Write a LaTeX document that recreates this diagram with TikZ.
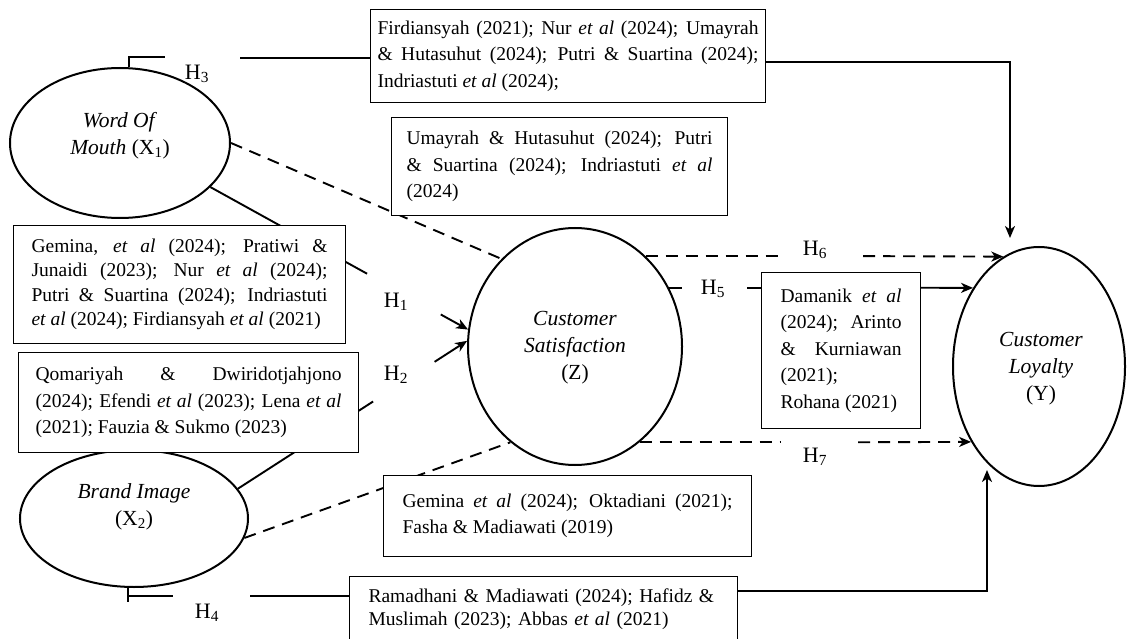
\documentclass[tikz,border=0pt]{standalone}
\usepackage{fontspec}
\setmainfont{Liberation Serif}
\usetikzlibrary{arrows.meta,calc,shapes.geometric}
\pgfdeclarelayer{bg}
\pgfsetlayers{bg,main}
\newcommand{\bxfont}{\fontsize{19.5}{26.5}\selectfont}
\newcommand{\elfont}{\fontsize{21.5}{27}\selectfont}
\newcommand{\hypfont}{\fontsize{22}{26}\selectfont}
\newcommand{\etal}{\textit{et al}}
\hyphenpenalty=10000
\exhyphenpenalty=10000
\begin{document}
\begin{tikzpicture}[x=1pt,y=-1pt,
  latent/.style={ellipse,draw,line width=2pt,fill=white,inner sep=0pt},
  etxt/.style={align=center,font=\elfont,inner sep=0pt},
  refbox/.style={draw,line width=1.1pt,fill=white,anchor=north west,align=justify,inner ysep=0pt,font=\bxfont},
  conn/.style={line width=1.9pt},
  dsh/.style={conn,dash pattern=on 12pt off 8pt},
  arr/.style={-{Stealth[length=12pt,width=10pt,inset=3.5pt]}},
  hlab/.style={font=\hypfont,inner sep=0pt},
]
\useasboundingbox (0,0) rectangle (1127,639);

% constructs
\node[latent,minimum width=220pt,minimum height=150pt] (wom) at (120,143) {};
\node[etxt] (womt) at (120,136) {\textit{Word Of}\\\textit{Mouth} (X\textsubscript{1})};
\node[latent,minimum width=228pt,minimum height=137pt] (bi) at (134,518.5) {};
\node[etxt] (bit) at (134,507) {\textit{Brand Image}\\(X\textsubscript{2})};
\node[latent,minimum width=214pt,minimum height=237pt] (cs) at (575,346.5) {};
\node[etxt] (cst) at (575,348) {\textit{Customer}\\\textit{Satisfaction}\\(Z)};
\node[latent,minimum width=172pt,minimum height=239pt] (yl) at (1039,366.5) {};
\node[etxt] (ylt) at (1041,369) {\textit{Customer}\\\textit{Loyalty}\\(Y)};

% reference boxes
\node[refbox,inner xsep=7pt,text width=381pt,minimum height=93pt] (box1) at (370,9)
 {Firdiansyah (2021); Nur \etal{} (2024); Umayrah\linebreak \& Hutasuhut (2024); Putri \& Suartina (2024);\linebreak Indriastuti \etal{} (2024);};
\node[refbox,inner xsep=15pt,text width=306pt,minimum height=98pt] (box2) at (391,117)
 {Umayrah \& Hutasuhut (2024); Putri\linebreak \& Suartina (2024); Indriastuti \etal\linebreak (2024)};
\node[refbox,inner xsep=18pt,text width=296pt,minimum height=118pt,font=\fontsize{19.5}{24.5}\selectfont] (geml) at (13,225)
 {Gemina, \etal{} (2024); Pratiwi \&\linebreak Junaidi (2023); Nur \etal{} (2024);\linebreak Putri \& Suartina (2024); Indriastuti\linebreak \etal{} (2024); Firdiansyah \etal{} (2021)};
\node[refbox,inner xsep=17pt,text width=306pt,minimum height=100pt] (qom) at (18,352)
 {Qomariyah \& Dwiridotjahjono\linebreak (2024); Efendi \etal{} (2023); Lena \etal\linebreak (2021); Fauzia \& Sukmo (2023)};
\node[refbox,inner xsep=19pt,text width=330pt,minimum height=81pt] (gemb) at (383,475)
 {Gemina \etal{} (2024); Oktadiani (2021);\linebreak Fasha \& Madiawati (2019)};
\node[refbox,inner xsep=19pt,text width=121pt,minimum height=156pt] (dam) at (761,272)
 {Damanik \etal\linebreak (2024); Arinto\linebreak \& Kurniawan\linebreak (2021);\newline Rohana (2021)};
\node[refbox,align=left,inner xsep=19pt,text width=350pt,minimum height=65pt,font=\fontsize{19.5}{23}\selectfont] (ram) at (349,576)
 {Ramadhani \& Madiawati (2024); Hafidz \&\newline Muslimah (2023); Abbas \etal{} (2021)};

% hypothesis labels
\node[hlab] (lh1) at (396,302) {H\textsubscript{1}};
\node[hlab] (lh2) at (396,375) {H\textsubscript{2}};
\node[hlab] (lh3) at (197,74) {H\textsubscript{3}};
\node[hlab] (lh4) at (207,613) {H\textsubscript{4}};
\node[hlab] (lh5) at (713,289) {H\textsubscript{5}};
\node[hlab] (lh6) at (815,250) {H\textsubscript{6}};
\node[hlab] (lh7) at (815,457) {H\textsubscript{7}};

% free ends of connectors
\coordinate (h3a) at (165,57);
\coordinate (h3b) at (240,58);
\coordinate (h3c) at (1010,62);
\coordinate (h3tip) at (1010,238);
\coordinate (h4a) at (173,596);
\coordinate (h4b) at (250,596);
\coordinate (h4c) at (987,591);
\coordinate (h4tip) at (987,470);
\coordinate (h5a) at (682,0);
\coordinate (h5b) at (747,0);
\coordinate (h6a) at (783,0);
\coordinate (h6b) at (863,0);
\coordinate (h7a) at (780,0);
\coordinate (h7b) at (858,0);

\begin{pgfonlayer}{bg}
% H3
\draw[conn] (wom.83) |- (h3a);
\draw[conn] (h3b) -- (h3b -| box1.west);
\draw[conn,arr] (h3c -| box1.east) -- (h3c) -- (h3tip);
% H1
\draw[conn] (wom.-26) -- ($(wom.-26)!0.608!(cs.171)$);
\draw[conn,arr] ($(wom.-26)!0.894!(cs.171)$) -- (cs.171);
% H2
\draw[conn] (bi.16) -- ($(bi.16)!0.59!(cs.177)$);
\draw[conn,arr] ($(bi.16)!0.858!(cs.177)$) -- (cs.177);
% dashed links to Z
\draw[dsh] (wom.east) -- (cs.130);
\draw[dsh] (bi.-10) -- (cs.236);
% H6
\draw[dsh] (cs.52) -- (cs.52 -| h6a);
\draw[dsh,arr] (cs.52 -| h6b) -- (yl.108);
% H5
\draw[conn] (cs.32) -- (cs.32 -| h5a);
\draw[conn] (cs.32 -| h5b) -- (cs.32 -| dam.west);
\draw[conn,arr] (cs.32 -| dam.east) -- (yl.130);
% H7
\draw[dsh] (cs.-56) -- (cs.-56 -| h7a);
\draw[dsh,arr] (cs.-56 -| h7b) -- (yl.228);
% H4
\draw[conn] (bi.-95) -- ++(0,14);
\draw[conn] (bi.-95 |- h4a) -- (h4a);
\draw[conn] (h4b) -- (h4b -| ram.west);
\draw[conn,arr] (h4c -| ram.east) -- (h4c) -- (h4tip);
\end{pgfonlayer}
\end{tikzpicture}
\end{document}
